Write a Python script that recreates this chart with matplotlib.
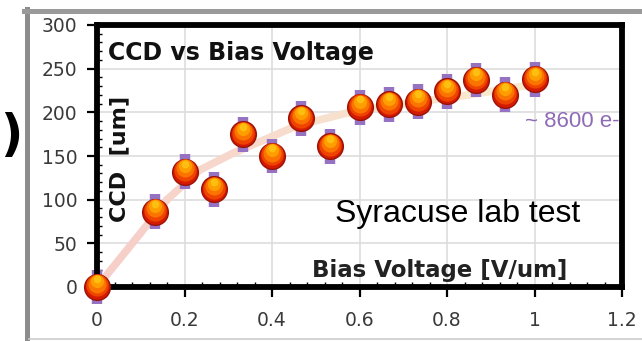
import numpy as np
import matplotlib
matplotlib.use("Agg")
import matplotlib.pyplot as plt
import matplotlib.transforms as mtransforms
from matplotlib.collections import LineCollection
from matplotlib.colors import to_rgba
from matplotlib.lines import Line2D

# measured points
bias = [0, 0.133, 0.2, 0.267, 0.333, 0.4, 0.467, 0.533, 0.6, 0.667, 0.733, 0.8, 0.867, 0.933, 1.0]
ccd = [0, 86, 132, 112, 175, 150, 193, 161, 206, 209, 212, 224, 237, 220, 238]
ccd_err = [20] * len(bias)

# pale fit curve
fit_x = [0, 0.1, 0.16, 0.235, 0.31, 0.38, 0.44, 0.49, 0.57, 0.65, 0.75, 0.85, 1.0]
fit_y = [0, 62, 100, 134, 153, 168, 181, 189, 199, 206, 213, 220, 232]

x_ticks = [0, 0.2, 0.4, 0.6, 0.8, 1.0, 1.2]
x_labels = ['0', '0.2', '0.4', '0.6', '0.8', '1', '1.2']
y_ticks = [0, 50, 100, 150, 200, 250, 300]

W, H = 642, 341
fig = plt.figure(figsize=(W / 100, H / 100), dpi=100)
fig.patch.set_facecolor('white')

# outer grey frame (screenshot border)
fig.add_artist(Line2D([26.5 / W, 26.5 / W], [1 - 9 / H, 1 - 338 / H], color='#8c8c8c', lw=3.6))
fig.add_artist(Line2D([24 / W, 1.0], [1 - 11 / H, 1 - 11 / H], color='#9a9a9a', lw=3.6))
fig.add_artist(Line2D([29 / W, 1.0], [1 - 338.5 / H, 1 - 338.5 / H], color='#cccccc', lw=1.2))
fig.text(0.5 / W, 1 - 136 / H, ')', fontsize=35, fontweight='bold', ha='left', va='center')

ax = fig.add_axes([97 / W, 1 - 287 / H, 525 / W, 262 / H])
ax.set_xlim(0, 1.2)
ax.set_ylim(0, 300)

# fit line with a pink -> beige fade
pts = np.column_stack([fit_x, fit_y])
segs = np.stack([pts[:-1], pts[1:]], axis=1)
c0 = np.array(to_rgba('#f6cfc9'))
c1 = np.array(to_rgba('#f8e9cf'))
cols = [c0 + (c1 - c0) * t for t in np.linspace(0, 1, len(segs))]
ax.add_collection(LineCollection(segs, colors=cols, linewidths=5.5, capstyle='round', zorder=2))

# error bars
ax.errorbar(bias, ccd, yerr=ccd_err, fmt='none', ecolor='#9572c2', elinewidth=7.5,
            capsize=0, zorder=3, clip_on=False)

# markers: red base, layers shifted upwards toward yellow
layers = [(18.5, '#d41a00', 0), (16, '#ee4400', 1.2), (13, '#fb7400', 2.5),
          (9.5, '#ff9e00', 4.0), (5.5, '#ffbf10', 5.5)]
for i, (ms, col, dy) in enumerate(layers):
    tr = ax.transData + mtransforms.ScaledTranslation(0, dy / 72, fig.dpi_scale_trans)
    ax.plot(bias, ccd, 'o', ms=ms, mfc=col, mec='#9a1208' if i == 0 else 'none',
            mew=1.0, zorder=4 + i, clip_on=False, transform=tr)

# grid / ticks
ax.set_xticks(x_ticks)
ax.set_xticklabels(x_labels)
ax.set_yticks(y_ticks)
ax.set_xticks(np.arange(0, 1.2001, 0.04), minor=True)
ax.set_yticks(np.arange(0, 300.1, 10), minor=True)
ax.grid(True, which='major', color='#dddddd', lw=1.2)
ax.set_axisbelow(True)
ax.tick_params(which='major', direction='out', length=7, width=1.6, labelsize=13.5,
               labelcolor='#3a3a3a', color='black')
ax.tick_params(axis='x', which='major', pad=10)
ax.tick_params(axis='y', which='major', pad=7)
ax.tick_params(which='minor', direction='in', length=3.5, width=1, color='black')
for s in ax.spines.values():
    s.set_linewidth(4.2)
    s.set_color('black')
    s.set_zorder(3.5)

ax.text(0.021, 0.866, 'CCD vs Bias Voltage', transform=ax.transAxes, fontsize=17,
        fontweight='bold', color='#111111', ha='left', va='baseline')
ax.text(0.042, 0.49, 'CCD  [um]', transform=ax.transAxes, fontsize=16, fontweight='bold',
        color='#111111', rotation=90, ha='center', va='center')
ax.text(0.895, 0.038, 'Bias Voltage [V/um]', transform=ax.transAxes, fontsize=16.5,
        fontweight='bold', color='#222222', ha='right', va='baseline')
ax.text(0.544, 74, 'Syracuse lab test', fontsize=23, family='Liberation Sans',
        color='black', ha='left', va='baseline')
ax.text(0.978, 183, '~ 8600 e-', fontsize=16, family='Liberation Sans',
        color='#8e6bb5', ha='left', va='baseline', clip_on=True, zorder=1)

fig.savefig('out.png', dpi=100)
